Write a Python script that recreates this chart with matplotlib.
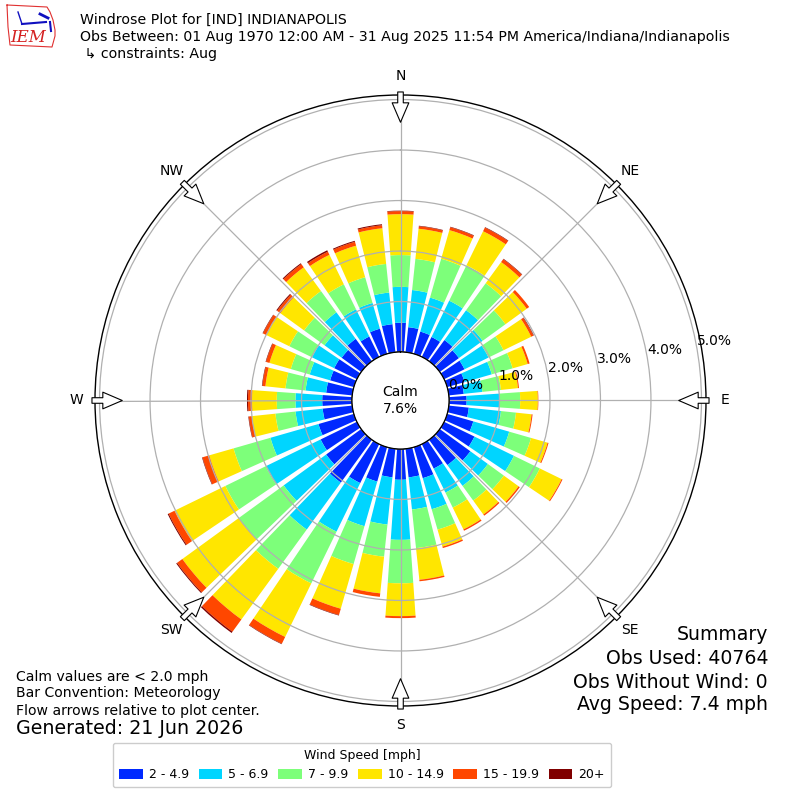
import numpy as np
import matplotlib
matplotlib.use('Agg')
import matplotlib.pyplot as plt

# Wind direction bins (degrees, meteorological) and frequency (%) per speed bin
directions = [0, 10, 20, 30, 40, 50, 60, 70, 80, 90, 100, 110, 120, 130, 140, 150, 160, 170,
              180, 190, 200, 210, 220, 230, 240, 250, 260, 270, 280, 290, 300, 310, 320, 330, 340, 350]
speed_labels = ['2 - 4.9', '5 - 6.9', '7 - 9.9', '10 - 14.9', '15 - 19.9', '20+']

freq_2_5 = [0.58, 0.50, 0.46, 0.44, 0.52, 0.47, 0.45, 0.36, 0.30, 0.35, 0.40, 0.54, 0.67, 0.75, 0.62, 0.54, 0.64, 0.57,
            0.61, 0.57, 0.71, 0.86, 1.05, 0.86, 0.80, 0.73, 0.59, 0.59, 0.52, 0.49, 0.50, 0.48, 0.55, 0.45, 0.52, 0.56]
freq_5_7 = [0.71, 0.74, 0.70, 0.80, 0.73, 0.58, 0.53, 0.56, 0.37, 0.66, 0.64, 0.74, 0.87, 0.43, 0.51, 0.53, 0.64, 0.64,
            1.19, 0.94, 0.92, 1.07, 1.15, 1.04, 1.21, 0.99, 0.54, 0.53, 0.41, 0.42, 0.49, 0.42, 0.65, 0.60, 0.53, 0.63]
freq_7_10 = [0.63, 0.62, 0.80, 0.78, 0.66, 0.56, 0.33, 0.43, 0.37, 0.40, 0.30, 0.45, 0.57, 0.39, 0.36, 0.33, 0.42, 0.77,
             0.86, 0.64, 0.78, 1.14, 0.96, 1.10, 0.89, 0.76, 0.40, 0.37, 0.40, 0.39, 0.50, 0.50, 0.52, 0.55, 0.53, 0.57]
freq_10_15 = [0.81, 0.60, 0.59, 0.75, 0.52, 0.52, 0.61, 0.31, 0.34, 0.35, 0.31, 0.34, 0.48, 0.36, 0.34, 0.48, 0.35, 0.63,
              0.65, 0.73, 0.92, 1.18, 1.24, 1.38, 1.12, 0.50, 0.47, 0.49, 0.40, 0.44, 0.51, 0.58, 0.58, 0.65, 0.65, 0.71]
freq_15_20 = [0.06, 0.05, 0.06, 0.08, 0.07, 0.06, 0.05, 0.04, 0.02, 0.01, 0.02, 0.02, 0.02, 0.03, 0.03, 0.03, 0.03, 0.03,
              0.04, 0.07, 0.13, 0.15, 0.30, 0.13, 0.13, 0.14, 0.06, 0.08, 0.06, 0.07, 0.07, 0.08, 0.08, 0.07, 0.08, 0.06]
freq_20_up = [0.01, 0.01, 0.01, 0.01, 0.01, 0.00, 0.01, 0.00, 0.00, 0.00, 0.00, 0.00, 0.00, 0.00, 0.00, 0.00, 0.00, 0.00,
              0.00, 0.00, 0.01, 0.01, 0.03, 0.02, 0.02, 0.01, 0.01, 0.02, 0.01, 0.01, 0.01, 0.02, 0.02, 0.03, 0.02, 0.02]

calm_pct = 7.6
radial_ticks = [0, 1, 2, 3, 4, 5]
compass = ['N', 'NE', 'E', 'SE', 'S', 'SW', 'W', 'NW']

series = [freq_2_5, freq_5_7, freq_7_10, freq_10_15, freq_15_20, freq_20_up]
colors = plt.cm.jet(np.arange(1, 7) / 6.)

fig = plt.figure(figsize=(8, 8), dpi=100)
ax = fig.add_axes([0.11875, 0.1175, 0.76375, 0.76375], projection='polar')
ax.set_theta_zero_location('N')
ax.set_theta_direction(-1)

theta = np.radians(directions)
bottom = np.zeros(len(directions))
for vals, color, label in zip(series, colors, speed_labels):
    vals = np.array(vals)
    ax.bar(theta, vals, width=np.radians(8), bottom=bottom, color=color, label=label,
           linewidth=0, align='center', zorder=1)
    bottom += vals

rmax = 5.09
ax.set_ylim(0, rmax)
ax.set_rorigin(-0.96)

# grid / ticks
ax.set_xticks(np.radians(np.arange(0, 360, 45)))
ax.set_xticklabels([])
ax.set_yticks(radial_ticks)
ax.set_yticklabels([f'{t:.1f}%' for t in radial_ticks], fontsize=10)
ax.set_rlabel_position(80)
ax.grid(True, color='#b0b0b0', linewidth=0.9)
ax.spines['polar'].set_color('black')
ax.spines['polar'].set_linewidth(1.0)

# calm circle
circ = np.linspace(0, 2 * np.pi, 361)
ax.plot(circ, np.zeros_like(circ), color='black', linewidth=1.0, zorder=3)
ax.text(0.5, 0.5, f'Calm\n{calm_pct:.1f}%', transform=ax.transAxes, ha='center', va='center',
        fontsize=10, linespacing=1.3)

# compass labels and flow arrows
for i, lab in enumerate(compass):
    th = np.radians(i * 45)
    ax.text(th, 5.46, lab, ha='center', va='center', fontsize=10, clip_on=False)
    ax.annotate('', xy=(th, 4.55), xytext=(th, 5.15), annotation_clip=False,
                arrowprops=dict(arrowstyle='simple,head_length=1.4,head_width=1.2,tail_width=0.4',
                                fc='white', ec='black', lw=0.8, shrinkA=0, shrinkB=0), zorder=5)

# logo (rough sketch of the IEM mark)
lax = fig.add_axes([0.0, 0.935, 0.08, 0.065])
lax.set_xlim(0, 64)
lax.set_ylim(52, 0)
lax.axis('off')
lax.plot([7, 47, 50, 53, 55, 55, 52, 10, 8, 7], [5, 7, 12, 20, 30, 36, 47, 45, 27, 5],
         color='#e03030', lw=0.8)
lax.plot([22, 46], [24, 22], color='#1010c0', lw=1.5)
lax.plot([18, 22], [12, 24], color='#1010c0', lw=1.0)
lax.plot([40, 48], [14, 18], color='#1010c0', lw=2.0)
lax.plot([50, 51], [22, 31], color='#1010c0', lw=1.5)
lax.text(28, 38, 'IEM', fontsize=12, color='#d42020', family='serif', style='italic',
         ha='center', va='center')

# header
fig.text(0.1, 0.975, 'Windrose Plot for [IND] INDIANAPOLIS', fontsize=10.2, va='center')
fig.text(0.1, 0.954, 'Obs Between: 01 Aug 1970 12:00 AM - 31 Aug 2025 11:54 PM America/Indiana/Indianapolis',
         fontsize=10.2, va='center')
fig.text(0.1, 0.9325, ' \u21b3 constraints: Aug', fontsize=10.2, va='center')

# footer left
fig.text(0.02, 0.15375, 'Calm values are < 2.0 mph', fontsize=10.1, va='center')
fig.text(0.02, 0.13375, 'Bar Convention: Meteorology', fontsize=10.1, va='center')
fig.text(0.02, 0.11125, 'Flow arrows relative to plot center.', fontsize=10.1, va='center')
fig.text(0.02, 0.08875, 'Generated: 21 Jun 2026', fontsize=13.7, va='center')

# summary right
fig.text(0.96, 0.20625, 'Summary', fontsize=13.6, ha='right', va='center')
fig.text(0.96, 0.17625, 'Obs Used: 40764', fontsize=13.6, ha='right', va='center')
fig.text(0.96, 0.1475, 'Obs Without Wind: 0', fontsize=13.6, ha='right', va='center')
fig.text(0.96, 0.11875, 'Avg Speed: 7.4 mph', fontsize=13.6, ha='right', va='center')

handles, labels = ax.get_legend_handles_labels()
fig.legend(handles, labels, loc='center', bbox_to_anchor=(0.4525, 0.04375), ncol=6, fontsize=9,
           title='Wind Speed [mph]', title_fontsize=9, handlelength=1.9, handleheight=0.8,
           handletextpad=0.5, columnspacing=0.75, framealpha=1, borderpad=0.5)

fig.savefig('out.png', dpi=100)
